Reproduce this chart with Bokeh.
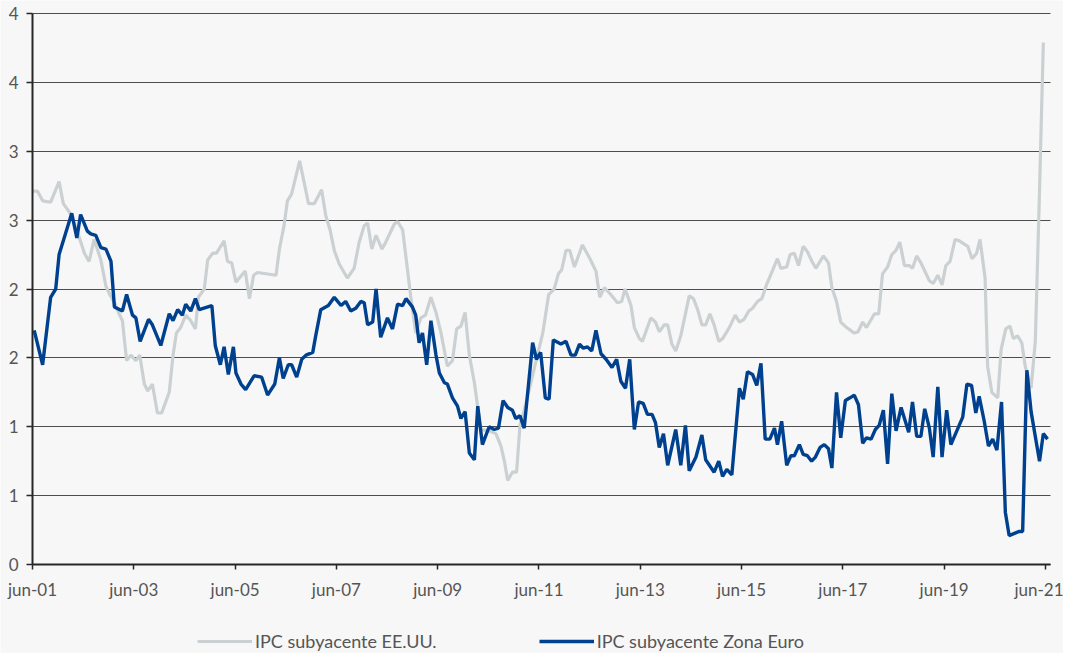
from bokeh.plotting import figure
from bokeh.models import FixedTicker, Legend, LegendItem, Range1d
from bokeh.embed import file_html
from bokeh.resources import INLINE

# Months since jun-01 (x) and core CPI (% y/y)
meses_eeuu = [0, 1.2, 2.4, 4.3, 6.3, 7.3, 8.7, 9.9, 10.7, 12.3, 13.4, 14.6, 16.2, 17.4, 18.3, 19.6,
              20.5, 21.3, 22.3, 23.3, 24.5, 25.4, 26.5, 27.3, 28.4, 29.6, 30.6, 32.4, 33.3, 34.1, 35.1,
              36.3, 37.5, 38.6, 39.3, 40.7, 41.5, 42.7, 43.6, 45.4, 46.2, 47.2, 48.2, 50.4, 51.4, 52.4,
              53.3, 57.7, 58.5, 59.6, 60.4, 61.4, 63.3, 65.4, 66.8, 68.5, 69.5, 70.5, 71.5, 72.7, 74.6,
              76.2, 77.4, 78.6, 79.4, 80.4, 81.4, 82.8, 83.7, 85.7, 86.5, 87.7, 89.6, 90.8, 92.0, 93.1,
              94.4, 95.6, 96.8, 97.6, 98.3, 99.5, 100.5, 101.5, 102.5, 103.5, 104.7, 106.2, 108.2, 109.8,
              111.0, 111.8, 112.6, 113.7, 114.7, 115.5, 116.5, 117.7, 119.4, 120.9, 122.3, 123.6, 124.6,
              125.4, 126.4, 127.3, 128.4, 130.3, 131.9, 133.5, 134.4, 135.5, 137.0, 138.6, 139.6, 140.4,
              141.8, 142.6, 143.8, 144.5, 146.5, 147.6, 148.5, 149.7, 150.5, 151.5, 152.4, 153.6, 155.6,
              156.6, 157.6, 158.6, 159.5, 160.5, 161.5, 162.6, 163.5, 165.1, 166.5, 167.5, 168.6, 169.7,
              170.6, 171.8, 172.8, 173.9, 175.0, 176.5, 177.3, 178.7, 179.5, 180.5, 181.5, 182.6, 183.6,
              184.7, 185.6, 187.4, 188.6, 189.4, 190.5, 191.5, 192.9, 194.7, 195.6, 196.7, 197.6, 199.5,
              200.5, 201.4, 202.6, 203.6, 204.6, 205.5, 206.6, 207.8, 208.5, 209.5, 210.5, 212.5, 213.4,
              214.5, 215.5, 216.4, 217.4, 218.6, 219.6, 221.6, 222.6, 223.7, 224.5, 225.7, 226.3, 227.3,
              228.7, 229.5, 230.6, 231.6, 232.4, 233.4, 234.4, 235.2, 236.6, 237.6, 238.5, 239.5]
ipc_eeuu = [2.71, 2.71, 2.64, 2.63, 2.78, 2.62, 2.56, 2.48, 2.41, 2.26, 2.20, 2.36, 2.21, 2.02, 1.96, 1.89,
            1.82, 1.77, 1.48, 1.52, 1.48, 1.52, 1.31, 1.26, 1.31, 1.10, 1.10, 1.25, 1.52, 1.68, 1.72,
            1.81, 1.77, 1.71, 1.94, 2.00, 2.21, 2.26, 2.26, 2.35, 2.20, 2.19, 2.05, 2.13, 1.93, 2.10,
            2.12, 2.10, 2.29, 2.46, 2.64, 2.69, 2.93, 2.62, 2.62, 2.72, 2.53, 2.43, 2.28, 2.18, 2.08,
            2.15, 2.34, 2.46, 2.48, 2.29, 2.39, 2.29, 2.34, 2.47, 2.49, 2.43, 1.95, 1.68, 1.79, 1.81,
            1.94, 1.83, 1.68, 1.55, 1.44, 1.48, 1.71, 1.73, 1.83, 1.52, 1.32, 0.98, 0.97, 0.95,
            0.86, 0.75, 0.61, 0.67, 0.67, 1.01, 1.12, 1.27, 1.49, 1.68, 1.96, 2.00, 2.11,
            2.14, 2.28, 2.28, 2.16, 2.32, 2.23, 2.13, 1.94, 2.01, 1.96, 1.90, 1.91, 2.00,
            1.88, 1.72, 1.64, 1.62, 1.79, 1.76, 1.69, 1.74, 1.74, 1.60, 1.55, 1.66, 1.95,
            1.93, 1.85, 1.74, 1.74, 1.82, 1.74, 1.62, 1.64, 1.72, 1.81, 1.76, 1.78, 1.84,
            1.86, 1.91, 1.93, 2.03, 2.11, 2.22, 2.15, 2.16, 2.25, 2.26, 2.17, 2.31, 2.27,
            2.20, 2.15, 2.24, 2.19, 2.01, 1.91, 1.76, 1.72, 1.68, 1.69, 1.76, 1.72, 1.82,
            1.82, 2.11, 2.16, 2.25, 2.28, 2.34, 2.17, 2.17, 2.15, 2.24, 2.19, 2.06, 2.04,
            2.10, 2.03, 2.17, 2.20, 2.36, 2.35, 2.31, 2.22, 2.26, 2.36, 2.08, 1.44, 1.25,
            1.21, 1.56, 1.71, 1.73, 1.64, 1.66, 1.61, 1.44, 1.28, 1.62, 2.60, 3.79]

meses_euro = [0.4, 2.4, 4.3, 5.5, 6.3, 9.3, 10.5, 11.4, 13.0, 13.8, 15.0, 16.2, 17.4, 18.6, 19.4, 21.3,
              22.3, 23.7, 24.5, 25.5, 27.5, 28.4, 30.4, 32.4, 33.3, 34.4, 35.5, 36.3, 37.5, 38.6, 39.5,
              42.5, 43.3, 44.5, 45.4, 46.4, 47.6, 48.2, 49.4, 50.5, 52.5, 54.3, 55.7, 57.4, 58.5, 59.4,
              60.6, 61.4, 62.6, 63.8, 64.8, 66.4, 67.1, 68.3, 70.1, 71.5, 72.3, 73.1, 74.2, 75.4, 76.6,
              77.8, 78.6, 79.4, 80.6, 81.4, 82.5, 84.1, 85.3, 86.5, 87.7, 88.5, 90.0, 90.8, 91.6, 92.4,
              93.4, 94.4, 95.6, 96.4, 97.6, 98.3, 99.5, 100.7, 101.5, 102.5, 103.5, 104.7, 105.5, 106.6,
              108.2, 109.4, 110.4, 111.5, 112.6, 113.7, 114.5, 115.5, 116.5, 118.5, 119.4, 120.4, 121.5,
              122.4, 123.4, 125.2, 126.4, 127.6, 128.6, 129.6, 130.5, 131.5, 132.5, 133.5, 134.7, 135.9,
              137.3, 138.4, 139.4, 140.5, 141.5, 142.6, 143.6, 144.7, 145.7, 146.8, 147.6, 148.5, 149.5,
              150.5, 152.4, 153.6, 154.7, 155.6, 157.2, 158.6, 159.5, 161.5, 162.6, 163.5, 164.5, 165.7,
              167.5, 168.4, 169.4, 170.6, 171.6, 172.6, 173.6, 174.7, 175.8, 176.5, 177.5, 178.7, 179.7,
              180.5, 181.7, 182.6, 183.6, 184.6, 185.5, 186.6, 187.6, 188.6, 189.4, 190.5, 191.5, 192.6,
              193.7, 194.7, 195.7, 196.7, 197.6, 198.7, 199.7, 200.6, 201.6, 202.6, 203.6, 204.6, 205.8,
              207.6, 208.5, 209.5, 210.5, 211.4, 212.5, 213.4, 214.5, 215.5, 216.6, 217.6, 220.4, 221.4,
              222.5, 223.5, 224.3, 225.5, 226.5, 227.5, 228.5, 229.6, 230.5, 231.4, 233.8, 234.6, 235.6,
              236.6, 238.6, 239.5, 240.5]
ipc_euro = [1.70, 1.45, 1.94, 2.00, 2.25, 2.55, 2.37, 2.54, 2.42, 2.40, 2.39, 2.30, 2.29, 2.20, 1.87, 1.84,
            1.96, 1.81, 1.79, 1.62, 1.78, 1.74, 1.59, 1.82, 1.77, 1.85, 1.81, 1.89, 1.84, 1.93, 1.85,
            1.88, 1.59, 1.45, 1.58, 1.38, 1.58, 1.39, 1.31, 1.27, 1.37, 1.36, 1.23, 1.31, 1.50, 1.35,
            1.45, 1.45, 1.36, 1.49, 1.52, 1.54, 1.66, 1.85, 1.88, 1.94, 1.91, 1.88, 1.91, 1.84, 1.86,
            1.91, 1.90, 1.74, 1.76, 2.00, 1.65, 1.79, 1.71, 1.89, 1.88, 1.93, 1.87, 1.81, 1.61, 1.68,
            1.45, 1.77, 1.52, 1.39, 1.32, 1.31, 1.21, 1.15, 1.06, 1.11, 0.81, 0.76, 1.15, 0.87,
            1.00, 0.98, 0.99, 1.19, 1.14, 1.12, 1.06, 1.08, 0.99, 1.61, 1.49, 1.54, 1.21,
            1.20, 1.63, 1.60, 1.62, 1.52, 1.52, 1.60, 1.57, 1.58, 1.55, 1.70, 1.53, 1.49,
            1.43, 1.49, 1.33, 1.28, 1.49, 0.98, 1.18, 1.17, 1.09, 1.09, 1.03, 0.85, 0.95,
            0.72, 0.98, 0.72, 1.01, 0.68, 0.78, 0.94, 0.76, 0.67, 0.75, 0.64, 0.69, 0.65,
            1.28, 1.20, 1.40, 1.38, 1.30, 1.46, 0.91, 0.91, 0.99, 0.87, 1.04, 0.72, 0.79,
            0.79, 0.87, 0.80, 0.79, 0.75, 0.78, 0.85, 0.87, 0.84, 0.70, 1.25, 0.92, 1.19,
            1.21, 1.23, 1.16, 0.88, 0.92, 0.91, 0.98, 1.01, 1.12, 0.73, 1.24, 0.97, 1.14,
            0.96, 1.18, 0.93, 0.93, 1.13, 0.99, 0.78, 1.29, 0.78, 1.12, 0.87, 1.07, 1.31,
            1.30, 1.10, 1.22, 1.04, 0.86, 0.91, 0.83, 1.18, 0.38, 0.21, 0.24, 0.24, 1.41,
            1.11, 0.75, 0.95, 0.91]

x_ticks = [0, 24, 48, 72, 96, 120, 144, 168, 192, 216, 240]
x_tick_labels = ["jun-01", "jun-03", "jun-05", "jun-07", "jun-09", "jun-11",
                 "jun-13", "jun-15", "jun-17", "jun-19", "jun-21"]
y_ticks = [0, 0.5, 1, 1.5, 2, 2.5, 3, 3.5, 4]
y_tick_labels = ["0", "1", "1", "2", "2", "3", "3", "4", "4"]

series_names = ["IPC subyacente EE.UU.", "IPC subyacente Zona Euro"]

BG = "#f7f7f7"
TXT = "#555555"
FONT = "Lato"

W, H = 1063, 653
X_MAX = 241.2
# The frame covers the whole canvas (so nothing is clipped); axes sit at x=0 / y=0.
px_x = (1050 - 32) / X_MAX          # pixels per month
px_y = (564 - 13) / 4.0             # pixels per unit
x_lo, x_hi = -32 / px_x, X_MAX + (W - 1050) / px_x
y_lo, y_hi = -(H - 564) / px_y, 4 + 13 / px_y

p = figure(width=W, height=H, output_backend="svg", toolbar_location=None,
           x_range=Range1d(x_lo, x_hi), y_range=Range1d(y_lo, y_hi),
           min_border_left=0, min_border_right=0, min_border_top=0, min_border_bottom=0)
p.background_fill_color = BG
p.border_fill_color = BG
p.outline_line_color = None

r_us = p.line(meses_eeuu, ipc_eeuu, line_color="#cbd0d2", line_width=3.2)
r_eu = p.line(meses_euro, ipc_euro, line_color="#00418f", line_width=3.4)

p.xaxis.ticker = FixedTicker(ticks=x_ticks)
p.xaxis.major_label_overrides = dict(zip(x_ticks, x_tick_labels))
p.xaxis.fixed_location = 0
p.xaxis.bounds = (0, X_MAX)
p.yaxis.ticker = FixedTicker(ticks=y_ticks)
p.yaxis.major_label_overrides = dict(zip(y_ticks, y_tick_labels))
p.yaxis.fixed_location = 0
p.yaxis.bounds = (0, 4)

for ax in (p.xaxis[0], p.yaxis[0]):
    ax.axis_line_color = "#262626"
    ax.axis_line_width = 2
    ax.major_tick_line_color = "#262626"
    ax.major_tick_line_width = 1.5
    ax.major_tick_in = 0
    ax.minor_tick_line_color = None
    ax.major_label_text_font = FONT
    ax.major_label_text_font_size = "17px"
    ax.major_label_text_color = TXT
p.xaxis.major_tick_out = 5
p.xaxis.major_label_standoff = 9
p.yaxis.major_tick_out = 6
p.yaxis.major_label_standoff = 8

p.xgrid.grid_line_color = None
p.ygrid.grid_line_color = "#4d4d4d"
p.ygrid.grid_line_width = 1
p.ygrid.cross_bounds = (0, X_MAX)

legend = Legend(items=[LegendItem(label=series_names[0], renderers=[r_us]),
                       LegendItem(label=series_names[1], renderers=[r_eu])],
                orientation="horizontal", location=(197, 1),
                spacing=102, glyph_width=55, glyph_height=20, label_height=20,
                label_standoff=3, padding=0, margin=0,
                label_text_font=FONT, label_text_font_size="18px", label_text_color=TXT,
                background_fill_alpha=0, border_line_alpha=0)
p.add_layout(legend)

open("out.html", "w").write(file_html(p, INLINE))
